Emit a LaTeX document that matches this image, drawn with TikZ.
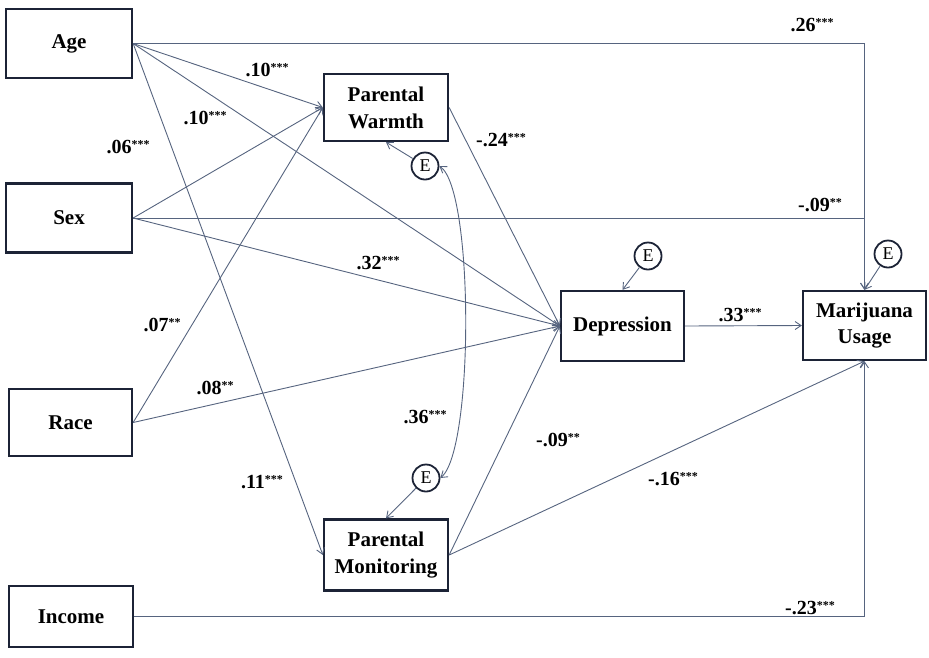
\documentclass[tikz,border=0pt]{standalone}
\usepackage{fontspec}
\setmainfont{Liberation Serif}
\usetikzlibrary{arrows.meta}
\definecolor{boxc}{HTML}{1C2336}
\definecolor{edgec}{HTML}{56647F}
\newcommand\sigst[1]{\raisebox{5pt}{\fontsize{12}{12}\selectfont #1}}
\begin{document}
\begin{tikzpicture}[x=1pt,y=-1pt,
  varbox/.style={draw=boxc, line width=2.3pt, align=center, inner sep=0pt,
    font=\bfseries\fontsize{21}{27}\selectfont},
  errc/.style={circle, draw=boxc, line width=1.8pt, minimum size=27pt, inner sep=0pt,
    font=\fontsize{18}{18}\selectfont},
  path/.style={draw=edgec, line width=0.9pt, -{Straight Barb[length=6pt,width=8pt,line width=0.9pt]}},
  coef/.style={inner sep=0pt, font=\bfseries\fontsize{20}{22}\selectfont}]
\useasboundingbox (0,0) rectangle (929,657);
% variables
\node[varbox, minimum width=126pt, minimum height=69pt] (age) at (69,43.5) {Age};
\node[varbox, minimum width=126pt, minimum height=69pt] (sex) at (69,218) {Sex};
\node[varbox, minimum width=123pt, minimum height=67pt] (race) at (70.5,422.5) {Race};
\node[varbox, minimum width=124pt, minimum height=61pt] (income) at (71,616.5) {Income};
\node[varbox, minimum width=124pt, minimum height=67pt] (warmth) at (386,107.5) {Parental\\Warmth};
\node[varbox, minimum width=123pt, minimum height=70pt] (dep) at (622.5,326) {Depression};
\node[varbox, minimum width=123pt, minimum height=69pt, font=\bfseries\fontsize{21}{26}\selectfont] (mar) at (864.5,325.5) {Marijuana\\Usage};
\node[varbox, minimum width=124pt, minimum height=71pt] (mon) at (386,555) {Parental\\Monitoring};
% error terms
\node[errc] (eW) at (425,166) {E};
\node[errc] (eD) at (648,256) {E};
\node[errc] (eM) at (888,254) {E};
\node[errc] (eMo) at (426,478) {E};
% paths
\draw[path] (age.east) -| (mar.north);
\draw[path] (sex.east) -| (mar.north);
\draw[path] (income.east) -| (mar.south);
\draw[path] (age.east) -- (warmth.west);
\draw[path] (age.east) -- (dep.west);
\draw[path] (age.east) -- (mon.west);
\draw[path] (sex.east) -- (warmth.west);
\draw[path] (sex.east) -- (dep.west);
\draw[path] (race.east) -- (warmth.west);
\draw[path] (race.east) -- (dep.west);
\draw[path] (warmth.east) -- (dep.west);
\draw[path] (mon.east) -- (dep.west);
\draw[path] (mon.east) -- (mar.south);
\draw[path] (dep.east) -- (mar.west);
\draw[path] (eW) -- (warmth.south);
\draw[path] (eD) -- (dep.north);
\draw[path] (eM) -- (mar.north);
\draw[path] (eMo) -- (mon.north);
\draw[path, {Straight Barb[length=6pt,width=8pt,line width=0.9pt]}-{Straight Barb[length=6pt,width=8pt,line width=0.9pt]}]
  (eW.east) .. controls (474,190) and (474,450) .. (eMo.east);
% coefficients
\node[coef] (c1) at (812,25) {.26\sigst{***}};
\node[coef] (c2) at (267,70) {.10\sigst{***}};
\node[coef] (c3) at (205,118) {.10\sigst{***}};
\node[coef] (c4) at (128,147) {.06\sigst{***}};
\node[coef] (c5) at (501,140) {-.24\sigst{***}};
\node[coef] (c6) at (820,205) {-.09\sigst{**}};
\node[coef] (c7) at (378,263) {.32\sigst{***}};
\node[coef] (c8) at (740,315) {.33\sigst{***}};
\node[coef] (c9) at (162,325) {.07\sigst{**}};
\node[coef] (c10) at (215,388) {.08\sigst{**}};
\node[coef] (c11) at (425,417) {.36\sigst{***}};
\node[coef] (c12) at (558,440) {-.09\sigst{**}};
\node[coef] (c13) at (262,482) {.11\sigst{***}};
\node[coef] (c14) at (673,479) {-.16\sigst{***}};
\node[coef] (c15) at (810,608) {-.23\sigst{***}};
\end{tikzpicture}
\end{document}
